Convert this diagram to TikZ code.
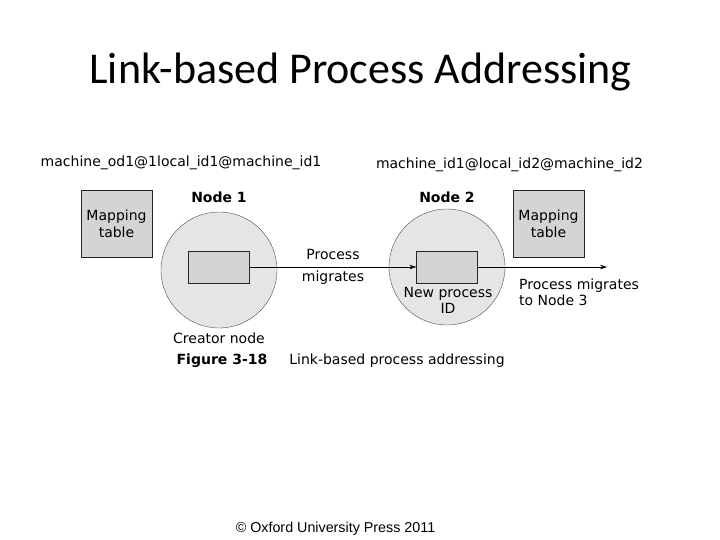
\documentclass[tikz,border=0pt]{standalone}
\usepackage{fontspec}
\usepackage{tikz}
\usetikzlibrary{shapes,arrows.meta,calc}
\setmainfont{DejaVu Sans}
\newfontfamily\titlefont{Carlito}
\newfontfamily\notefont{Liberation Sans}

\newcommand{\fsz}{\fontsize{14}{16}\selectfont}

\tikzset{
  site/.style={circle, draw=black!70, fill=gray!20, minimum size=116pt, inner sep=0pt},
  proc/.style={draw=black!85, fill=gray!34, minimum width=61pt, minimum height=32pt, inner sep=0pt},
  maptab/.style={draw=black!85, fill=gray!34, minimum width=71pt, minimum height=67pt,
    align=center, font=\fontsize{14}{17}\selectfont},
  lbl/.style={draw=none, font=\fsz, align=center, inner sep=0pt},
  mig/.style={-{Stealth[length=7pt,width=4.5pt]}, thin}
}

\begin{document}
\begin{tikzpicture}[x=1pt, y=-1pt]
\useasboundingbox (0,0) rectangle (720,540);

% Title
\node[draw=none, font=\titlefont\fontsize{44}{50}\selectfont, anchor=base] (title) at (360.5,84)
  {Link-based Process Addressing};

% Address of the process on each node
\node[lbl] (addr1) at (181,163) {machine\_od1@1local\_id1@machine\_id1};
\node[lbl] (addr2) at (509.5,165) {machine\_id1@local\_id2@machine\_id2};

% Two nodes with their process box
\foreach \n/\x/\y in {1/219/270, 2/447/267} {
  \node[site] (site\n) at (\x,\y) {};
  \node[lbl, font=\fsz\bfseries] (name\n) at (\x,197) {Node \n};
  \node[proc] (proc\n) at (\x,267) {};
}

% Mapping tables
\foreach \n/\x in {1/116.5, 2/548.5} {
  \node[maptab] (map\n) at (\x,223.5) {Mapping\\table};
}

% Migration
\coordinate (exit) at (607,267);
\draw[mig] (proc1.east) -- (proc2.west);
\draw[mig] (proc2.east) -- (exit);

% Labels
\node[lbl, font=\fontsize{14}{22}\selectfont] (migtext) at (333,267) {Process\\migrates};
\node[lbl] (newid) at (448,300) {New process\\ID};
\node[lbl, anchor=west, align=left] (onward) at (519,292.5) {Process migrates\\to Node 3};
\node[lbl] (creator) at (219,338) {Creator node};

% Caption
\node[lbl, font=\fsz\bfseries] (fignum) at (222,361) {Figure 3-18};
\node[lbl] (figcap) at (397,361) {Link-based process addressing};

% Footer
\node[draw=none, font=\notefont\fontsize{14.3}{16}\selectfont, anchor=base] (copy) at (335.5,532)
  {\textcopyright{} Oxford University Press 2011};

\end{tikzpicture}
\end{document}
